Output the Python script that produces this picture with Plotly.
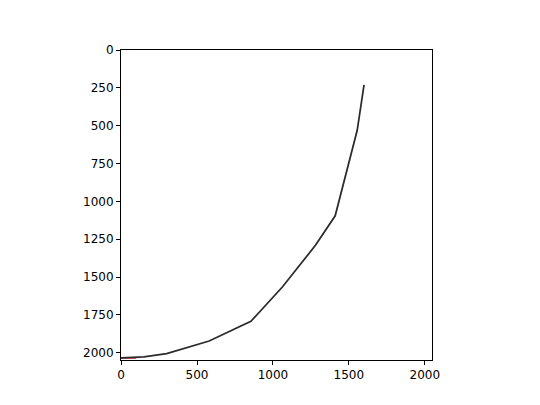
import plotly.graph_objects as go

# curve (image pixel coordinates)
curve_x = [0, 150, 300, 580, 855, 1062, 1280, 1410, 1555, 1600]
curve_y = [2033, 2027, 2005, 1922, 1792, 1565, 1290, 1095, 530, 230]

# short red segment at the bottom
red_x = [0, 100]
red_y = [2034, 2034]

x_ticks = [0, 500, 1000, 1500, 2000]
y_ticks = [0, 250, 500, 750, 1000, 1250, 1500, 1750, 2000]

fig = go.Figure()
fig.add_trace(go.Scatter(x=red_x, y=red_y, mode="lines",
                         line=dict(color="#d62728", width=1.5), showlegend=False))
fig.add_trace(go.Scatter(x=curve_x, y=curve_y, mode="lines",
                         line=dict(color="#2b2b2b", width=1.75), showlegend=False))

axis_common = dict(showgrid=False, zeroline=False, showline=True, linecolor="black",
                   linewidth=1, mirror=True, ticks="outside", ticklen=4, tickwidth=1,
                   tickcolor="black", tickfont=dict(family="DejaVu Sans", size=12, color="black"))

fig.update_layout(
    width=540, height=405,
    margin=dict(l=113, r=116, t=42, b=53),
    plot_bgcolor="white", paper_bgcolor="white",
    xaxis=dict(range=[-0.5, 2047.5], tickvals=x_ticks, ticktext=[str(v) for v in x_ticks], **axis_common),
    yaxis=dict(range=[2047.5, -0.5], tickvals=y_ticks, ticktext=[str(v) for v in y_ticks], **axis_common),
)

fig.write_html("out.html")
